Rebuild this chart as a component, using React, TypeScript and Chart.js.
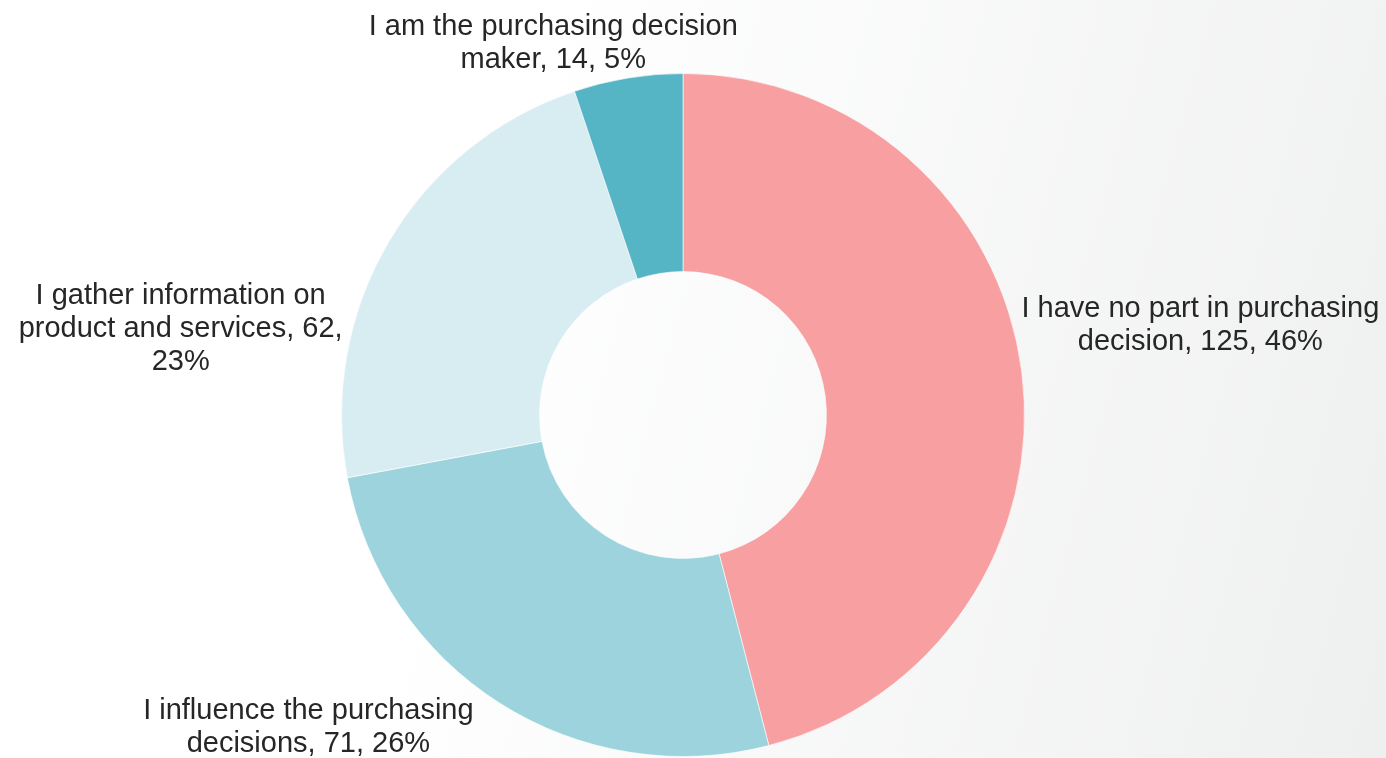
import React, { useEffect, useRef } from "react";
import { Chart, registerables } from "chart.js";

Chart.register(...registerables);

const categories = [
  "I have no part in purchasing decision",
  "I influence the purchasing decisions",
  "I gather information on product and services",
  "I am the purchasing decision maker",
];
const values = [125, 71, 62, 14];
const percents = ["46%", "26%", "23%", "5%"];
const labelLines = [
  ["I have no part in purchasing", "decision, 125, 46%"],
  ["I influence the purchasing", "decisions, 71, 26%"],
  ["I gather information on", "product and services, 62,", "23%"],
  ["I am the purchasing decision", "maker, 14, 5%"],
];
const colors = ["#F79FA1", "#9CD3DC", "#D8EDF2", "#56B5C5"];
// label block centre offsets relative to doughnut centre, in units of outer radius
const labelOffsets = [
  [1.515, -0.263],
  [-1.097, 0.915],
  [-1.471, -0.251],
  [-0.38, -1.088],
];

const FONT = "29px 'Liberation Sans'";

const labelPlugin = {
  id: "outLabels",
  afterDatasetsDraw(chart: any) {
    const ctx = chart.ctx;
    const meta = chart.getDatasetMeta(0);
    ctx.save();
    ctx.font = FONT;
    ctx.fillStyle = "#262626";
    ctx.textAlign = "center";
    ctx.textBaseline = "middle";
    const lh = 33;
    meta.data.forEach((arc: any, i: number) => {
      const R = arc.outerRadius;
      const cx = arc.x + labelOffsets[i][0] * R;
      const cy = arc.y + labelOffsets[i][1] * R;
      const lines = labelLines[i];
      const start = cy - ((lines.length - 1) * lh) / 2;
      lines.forEach((t, j) => ctx.fillText(t, cx, start + j * lh));
    });
    ctx.restore();
  },
};

export default function App() {
  const ref = useRef<HTMLCanvasElement>(null);
  useEffect(() => {
    document.body.style.margin = "0";
    let chart: any = null;
    let cancelled = false;
    const make = () => {
      if (cancelled) return;
      chart = new Chart(ref.current!, {
        type: "doughnut",
        data: {
          labels: categories,
          datasets: [
            {
              data: values,
              backgroundColor: colors,
              borderColor: "rgba(255,255,255,0.6)",
              borderWidth: 1,
            },
          ],
        },
        options: {
          animation: false,
          responsive: false,
          cutout: "42%",
          layout: { padding: { top: 73, bottom: 1, left: 0, right: 20 } },
          plugins: {
            legend: { display: false },
            tooltip: { enabled: false },
          },
        },
        plugins: [labelPlugin],
      });
    };
    (document as any).fonts
      .load(FONT)
      .then(make, make);
    return () => {
      cancelled = true;
      if (chart) chart.destroy();
    };
  }, []);
  return (
    <div
      style={{
        position: "absolute",
        left: 0,
        top: 0,
        width: 1386,
        height: 758,
        background: "linear-gradient(105deg, #ffffff 35%, #eeefef 100%)",
      }}
    >
      <canvas ref={ref} width={1386} height={758} style={{ display: "block" }} />
    </div>
  );
}
